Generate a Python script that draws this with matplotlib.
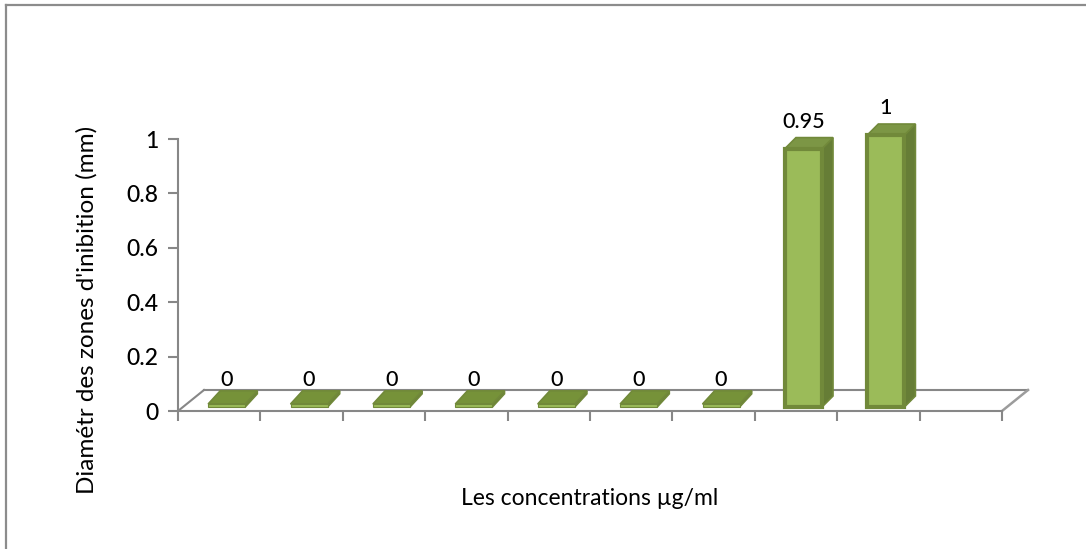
import matplotlib
matplotlib.use("Agg")
import matplotlib.pyplot as plt
from matplotlib.patches import Polygon
from matplotlib.transforms import offset_copy
from matplotlib.lines import Line2D

plt.rcParams['font.family'] = ['Lato', 'DejaVu Sans']
plt.rcParams['font.weight'] = 'medium'

# diamètre des zones d'inhibition pour chaque concentration
values = [0, 0, 0, 0, 0, 0, 0, 0.95, 1]
labels = ['0', '0', '0', '0', '0', '0', '0', '0.95', '1']
n_cat = 10
yticks = [0, 0.2, 0.4, 0.6, 0.8, 1]
ytick_labels = ['0', '0.2', '0.4', '0.6', '0.8', '1']

front_col = '#9BBB59'
edge_col = '#71893A'
side_col = '#667D36'
top_col = '#7C9645'
flat_col = '#769239'
grid_col = '#878787'

fig = plt.figure(figsize=(10.86, 5.49), dpi=100)
ax = fig.add_axes([178 / 1086, (549 - 411) / 549, 824 / 1086, 272 / 549])
ax.set_xlim(0, n_cat)
ax.set_ylim(0, 1)

# frame of the chart area (only top and left edges are in view)
fig.add_artist(Line2D([6 / 1086, 6 / 1086], [0, 1 - 5 / 549],
                      transform=fig.transFigure, color='#8C8C8C', lw=1.6))
fig.add_artist(Line2D([6 / 1086, 1], [1 - 5 / 549, 1 - 5 / 549],
                      transform=fig.transFigure, color='#8C8C8C', lw=1.6))

# pixel -> data conversion for the pseudo 3D depth
px_x = n_cat / 824.0
px_y = 1 / 272.0

# floor parallelogram
fdx, fdy = 26 * px_x, 21 * px_y
ax.plot([fdx, n_cat + fdx], [fdy, fdy], color=grid_col, lw=1.5, clip_on=False, zorder=1)
ax.plot([0, fdx], [0, fdy], color=grid_col, lw=1.5, clip_on=False, zorder=1)
ax.plot([n_cat, n_cat + fdx], [0, fdy], color='#9C9C9C', lw=1.8,
        clip_on=False, zorder=1)

for s in ['top', 'right']:
    ax.spines[s].set_visible(False)
for s in ['left', 'bottom']:
    ax.spines[s].set_color(grid_col)
    ax.spines[s].set_linewidth(1.5)

ax.set_xticks(range(n_cat + 1))
ax.set_xticklabels([])
ax.set_yticks(yticks)
ax.set_yticklabels(ytick_labels, fontsize=16.5)
ax.tick_params(axis='both', color=grid_col, width=1.5, length=7, direction='out')
ax.tick_params(axis='y', pad=7)

# columns sit a little behind the front edge of the floor
shift = offset_copy(ax.transData, fig=fig, x=5, y=4, units='dots')
width = 0.45
bdx, bdy = 11 * px_x, 11 * px_y
xs = [i + 0.53 for i in range(len(values))]

for x, v, lab in zip(xs, values, labels):
    x0, x1 = x - width / 2, x + width / 2
    flat = v == 0
    h = max(v, 3 * px_y)
    dx, dy = (bdx * 1.1, bdy * 1.2) if flat else (bdx, bdy)
    side = Polygon([(x1, 0), (x1 + dx, dy), (x1 + dx, h + dy), (x1, h)],
                   closed=True, facecolor=side_col, edgecolor=edge_col, lw=1.2,
                   transform=shift, clip_on=False, zorder=3)
    top = Polygon([(x0, h), (x1, h), (x1 + dx, h + dy), (x0 + dx, h + dy)],
                  closed=True, facecolor=flat_col if flat else top_col,
                  edgecolor=edge_col, lw=1.2,
                  transform=shift, clip_on=False, zorder=3)
    ax.add_patch(side)
    ax.add_patch(top)
    ax.bar(x, h, width=width, bottom=0, color=front_col, edgecolor=edge_col,
           linewidth=3 if not flat else 0.8, transform=shift, clip_on=False, zorder=4)
    ax.text(x, v + bdy + 6 * px_y, lab, transform=shift, ha='center', va='bottom',
            fontsize=15.5, color='black', zorder=5)

ax.set_xlabel('Les concentrations µg/ml', fontsize=16.5, labelpad=45)
ax.set_ylabel("Diamétr des zones d'inibition (mm)", fontsize=17.5)
ax.yaxis.set_label_coords(-0.098, 0.371)

fig.savefig('out.png', dpi=100)
